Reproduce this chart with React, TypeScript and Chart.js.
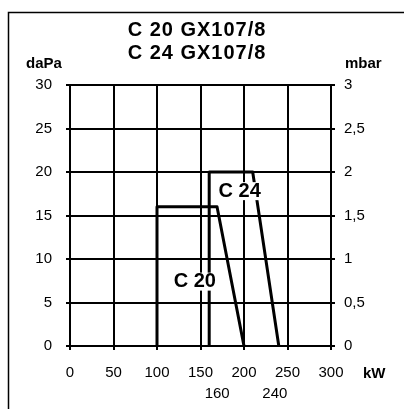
import React, { useEffect, useRef } from "react";
import { Chart, registerables } from "chart.js";

Chart.register(...registerables);

// ---- data ----
const titleLines = ["C 20 GX107/8", "C 24 GX107/8"];
const xTicks = [0, 50, 100, 150, 200, 250, 300];
const yTicksDaPa = [0, 5, 10, 15, 20, 25, 30];
const yTicksMbar = [0, 0.5, 1, 1.5, 2, 2.5, 3];
const extraXLabels = [160, 240];

const c20X = [100, 100, 169, 200];
const c20Y = [0, 16, 16, 0];
const c24X = [160, 160, 210, 240];
const c24Y = [0, 20, 20, 0];

const seriesNames = ["C 20", "C 24"];
// label anchor points (kW, daPa)
const seriesLabelX = [143.5, 195];
const seriesLabelY = [7.4, 17.8];

const FONT = "'Liberation Sans', Arial, Helvetica, sans-serif";

const toPoints = (xs: number[], ys: number[]) => xs.map((x, i) => ({ x, y: ys[i] }));

const decorPlugin = {
  id: "decor",
  afterDraw(chart: any) {
    const ctx = chart.ctx as CanvasRenderingContext2D;
    const xs = chart.scales.x;
    const ys = chart.scales.y;
    const area = chart.chartArea;
    ctx.save();
    // scan frame (left + top)
    ctx.strokeStyle = "#000";
    ctx.lineWidth = 1.5;
    ctx.beginPath();
    ctx.moveTo(8.5, chart.height);
    ctx.lineTo(8.5, 12.5);
    ctx.lineTo(404, 12.5);
    ctx.stroke();

    ctx.fillStyle = "#000";
    ctx.textBaseline = "middle";
    // title
    ctx.textAlign = "center";
    ctx.font = `bold 20px ${FONT}`;
    (ctx as any).letterSpacing = "1px";
    ctx.fillText(titleLines[0], 197, 30);
    ctx.fillText(titleLines[1], 197, 53);
    (ctx as any).letterSpacing = "0px";

    // units
    ctx.font = `bold 15px ${FONT}`;
    ctx.textAlign = "left";
    ctx.fillText("daPa", 26, 64);
    ctx.fillText("mbar", 345, 64);
    ctx.fillText("kW", 363, 374);

    // extra x labels
    ctx.font = `15px ${FONT}`;
    ctx.textAlign = "center";
    const dx = [8, -4];
    extraXLabels.forEach((v, i) => {
      ctx.fillText(String(v), xs.getPixelForValue(v) + dx[i], 394);
    });

    // series labels
    ctx.font = `bold 20px ${FONT}`;
    seriesNames.forEach((n, i) => {
      const px = xs.getPixelForValue(seriesLabelX[i]);
      const py = ys.getPixelForValue(seriesLabelY[i]);
      // white knock-out behind label
      const w = ctx.measureText(n).width;
      ctx.fillStyle = "#fff";
      ctx.fillRect(px - w / 2 - 1, py - 9, w + 2, 18);
      ctx.fillStyle = "#000";
      ctx.fillText(n, px, py);
    });
    void area;
    ctx.restore();
  },
};

export default function App() {
  const ref = useRef<HTMLCanvasElement | null>(null);
  useEffect(() => {
    if (!ref.current) return;
    Chart.defaults.font.family = FONT;
    Chart.defaults.color = "#000";
    const chart = new Chart(ref.current, {
      type: "line",
      data: {
        datasets: [
          {
            label: seriesNames[0],
            data: toPoints(c20X, c20Y),
            borderColor: "#000",
            borderWidth: 3,
            pointRadius: 0,
            tension: 0,
            borderJoinStyle: "round",
            yAxisID: "y",
          },
          {
            label: seriesNames[1],
            data: toPoints(c24X, c24Y),
            borderColor: "#000",
            borderWidth: 3,
            pointRadius: 0,
            tension: 0,
            borderJoinStyle: "round",
            yAxisID: "y",
          },
        ],
      },
      options: {
        animation: false,
        responsive: true,
        maintainAspectRatio: false,
        layout: { padding: { top: 85, left: 0, right: 0, bottom: 0 } },
        plugins: {
          legend: { display: false },
          title: { display: false },
          tooltip: { enabled: false },
        },
        scales: {
          x: {
            type: "linear",
            min: 0,
            max: 300,
            afterFit: (s: any) => {
              s.height = 63;
            },
            afterBuildTicks: (s: any) => {
              s.ticks = xTicks.map((v) => ({ value: v }));
            },
            ticks: {
              font: { size: 15 },
              color: "#000",
              padding: 14,
              maxRotation: 0,
              autoSkip: false,
            },
            grid: { color: "#000", lineWidth: 2, tickLength: 4, drawTicks: true },
            border: { color: "#000", width: 2 },
          },
          y: {
            type: "linear",
            position: "left",
            min: 0,
            max: 30,
            afterFit: (s: any) => {
              s.width = 70;
            },
            afterBuildTicks: (s: any) => {
              s.ticks = yTicksDaPa.map((v) => ({ value: v }));
            },
            ticks: { font: { size: 15 }, color: "#000", padding: 14, autoSkip: false },
            grid: { color: "#000", lineWidth: 2, tickLength: 4, drawTicks: true },
            border: { color: "#000", width: 2 },
          },
          y2: {
            type: "linear",
            position: "right",
            min: 0,
            max: 3,
            afterFit: (s: any) => {
              s.width = 75;
            },
            afterBuildTicks: (s: any) => {
              s.ticks = yTicksMbar.map((v) => ({ value: v }));
            },
            ticks: {
              font: { size: 15 },
              color: "#000",
              padding: 9,
              autoSkip: false,
              callback: (v: any) => String(v).replace(".", ","),
            },
            grid: { drawOnChartArea: false, color: "#000", lineWidth: 2, tickLength: 4 },
            border: { color: "#000", width: 2 },
          },
        },
      } as any,
      plugins: [decorPlugin],
    });
    return () => chart.destroy();
  }, []);

  return (
    <div style={{ position: "absolute", left: 0, top: 0, width: 406, height: 409, background: "#fff" }}>
      <canvas ref={ref} />
    </div>
  );
}
